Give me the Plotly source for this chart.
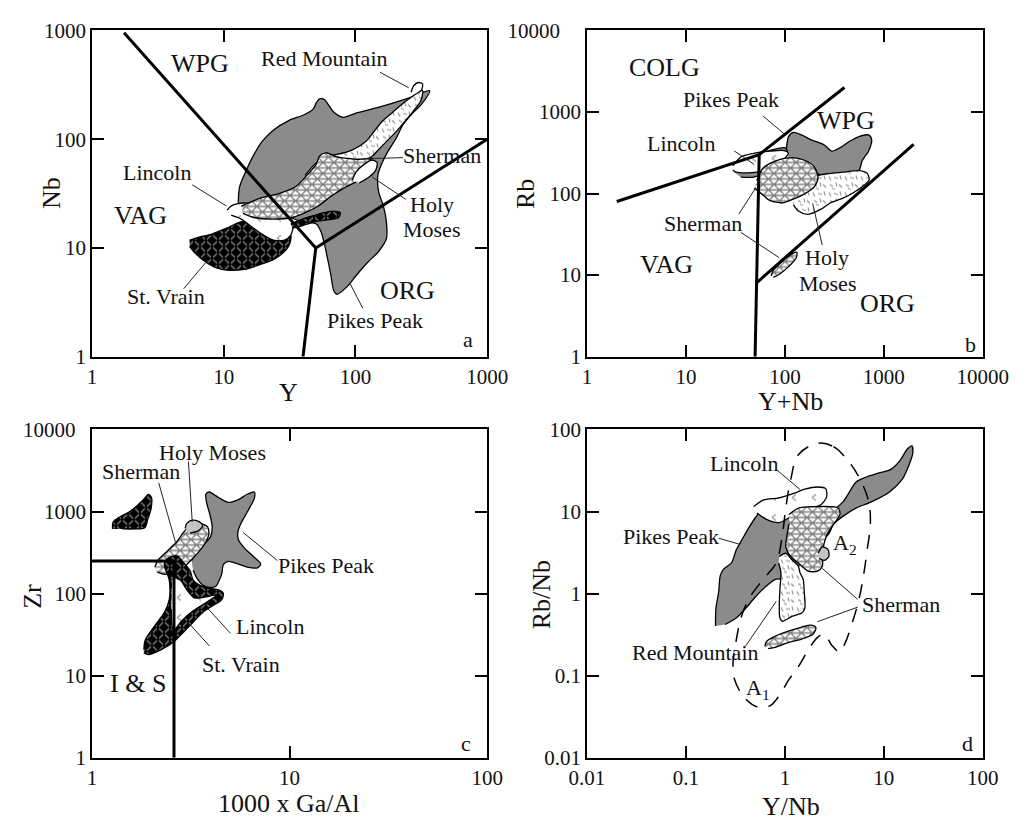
import math
import plotly.graph_objects as go

# ---------------- panel a : Nb vs Y ----------------
a_wpg_x = [1.75, 50]; a_wpg_y = [950, 10]
a_org_x = [50, 1000]; a_org_y = [10, 100]
a_vag_x = [50, 40]; a_vag_y = [10, 1]

a_pikes_x = [12.9,13.2,14.8,17.0,19.6,23.8,31.4,40.4,47.7,50.5,53.4,58.0,63.1,68.6,81.1,101,142,198,269,366,318,269,228,204,177,158,148,150,163,172,172,150,123,101,85.7,72.5,68.6,64.9,61.3,58.0,54.9,50.5,37.2,28.1,19.0,13.6]
a_pikes_y = [25.9,36.5,51.4,72.5,95.3,121,149,167,189,217,235,232,203,177,159,174,193,217,245,279,210,171,134,102,77.6,59.0,46.4,33.0,24.2,17.2,12.2,9.27,7.30,5.55,4.36,3.75,4.02,5.74,8.09,11.0,14.0,16.6,17.8,20.4,22.6,24.2]
a_redmtn_x = [41.5,49.1,59.7,72.5,95.9,120,138,158,192,234,284,323,313,277,241,209,177,150,130,101,76.7,58.0,47.7]
a_redmtn_y = [46.4,59.0,70.0,72.5,80.3,95.3,117,144,177,217,258,281,224,183,149,121,98.6,80.3,67.6,64.1,61.1,55.1,48.1]
a_redblob_x = [265,277,301,323,318,292]
a_redblob_y = [270,310,332,323,285,263]
a_sherman_x = [13.6,19.0,26.6,35.1,42.7,50.5,53.4,59.7,72.5,101,130,140,134,107,81.1,64.9,51.9,41.5,33.2,23.8,17.0,14.0]
a_sherman_y = [24.2,28.7,31.8,36.5,46.4,59.0,70.0,75.0,68.6,65.4,65.4,59.0,48.7,41.9,35.3,29.7,24.2,21.1,19.05,18.4,19.05,20.8]
a_holy_x = [94.8,101,117,134,146,142,127,107]
a_holy_y = [41.9,49.7,59.0,64.1,61.1,51.4,44.9,39.6]
a_lincoln_x = [10.6,11.5,14.4,19.0,25.1,30.5,33.6,32.3,28.9,23.8,20.1,16.5,13.6,11.4]
a_lincoln_y = [22.3,24.5,25.9,25.0,23.4,20.4,16.6,13.1,11.8,11.8,13.1,15.5,18.4,20.0]
a_stvrain_x = [5.51,6.23,8.24,10.9,13.6,17.0,22.5,28.1,32.3,31.4,28.1,23.8,19.0,14.4,10.9,8.71,7.16,6.06,5.51]
a_stvrain_y = [11.8,12.4,13.5,15.5,17.4,16.6,14.0,12.2,13.1,10.6,8.96,7.81,7.05,6.36,6.23,6.58,7.55,8.96,10.3]
a_stvrain2_x = [32.3,39.3,51.9,66.7,76.7,74.6,63.1,49.1,38.2,33.2]
a_stvrain2_y = [16.6,18.4,20.4,21.8,21.1,19.05,18.2,17.4,15.8,15.2]

# ---------------- panel b : Rb vs Y+Nb ----------------
b_colg_x = [2, 55, 400]; b_colg_y = [80, 300, 2000]
b_vert_x = [55, 51.5, 50]; b_vert_y = [300, 8, 1]
b_org_x = [51.5, 2000]; b_org_y = [8, 400]

b_pikes_x = [103,109,122,147,184,248,298,359,448,560,700,754,700,604,560,448,359,287,213,171,137,113]
b_pikes_y = [316,499,562,523,456,397,331,363,435,499,523,456,331,252,191,175,167,159,175,191,230,263]
b_pikes2_x = [30.9,34.6,48.3,70.0,101,106,94.2,75.4,60.4,48.3,35.9]
b_pikes2_y = [183,230,297,337,363,316,263,219,175,159,159]
b_lincoln_x = [29.8,35.9,48.3,70.0,97.8,108,100,81.2,65.0,52.0,41.6,32.1,29.8]
b_lincoln_y = [219,281,311,331,337,316,271,230,195,183,179,183,195]
b_sherman_x = [52.0,60.4,81.2,118,158,198,216,198,158,118,94.2,70.0,58.2,49.0]
b_sherman_y = [145,206,252,276,256,213,159,121,99.1,84.1,76.7,82.6,99.1,116]
b_sherman2_x = [72.6,76.5,94.2,116,132,130,109,88.8,76.5]
b_sherman2_y = [9.82,11.5,14.8,18.1,19.1,16.2,12.7,10.3,9.38]
b_holy_x = [118,137,184,267,387,560,675,711,604,483,387,287,230,171,137,122]
b_holy_y = [90.4,133,159,175,183,191,178,148,121,101,88.0,76.7,63.9,55.7,61.1,73.3]

# ---------------- panel c : Zr vs 1000 Ga/Al ----------------
c_line_x = [1, 2.6, 2.6]; c_line_y = [250, 250, 1]

c_pikes_x = [3.19,3.37,3.70,3.99,4.06,3.94,3.80,3.77,3.91,4.37,4.89,5.47,6.11,6.63,6.63,6.34,6.00,5.67,5.47,5.51,5.93,6.58,7.14,6.88,6.11,5.47,4.89,4.62,4.54,4.41,4.22,3.91,3.63,3.40,3.25]
c_pikes_y = [252,331,404,498,654,940,1293,1623,1730,1482,1293,1390,1623,1730,1443,1159,915,716,560,454,356,281,230,206,210,230,247,226,175,146,122,119,127,153,192]
c_sherman_x = [2.08,2.16,2.41,2.70,2.91,3.13,3.50,3.84,3.91,3.77,3.50,3.25,3.02,2.80,2.60,2.32,2.14]
c_sherman_y = [210,256,331,434,560,672,716,654,545,426,331,271,226,192,175,172,183]
c_holy_x = [2.96,3.02,3.23,3.50,3.63,3.44,3.13]
c_holy_y = [625,716,784,749,672,581,545]
c_stvrain_x = [1.83,1.86,2.08,2.32,2.46,2.46,2.32,2.46,2.70,2.85,3.13,3.25,3.50,3.91,4.37,4.62,4.54,4.06,3.63,3.25,2.91,2.60,2.24,1.93,1.83]
c_stvrain_y = [20.7,27.1,40.8,58.7,84.5,146,230,276,288,252,192,146,127,116,111,101,84.5,70.5,58.7,44.7,34.0,25.9,20.7,18.0,18.9]
c_lincoln_x = [2.55,2.80,3.02,3.31,3.91,4.29,3.77,3.25,2.85,2.58,2.52]
c_lincoln_y = [160,146,111,88.5,92.6,96.9,77.2,61.5,46.8,35.6,64.3]
c_stvrain2_x = [1.27,1.28,1.38,1.54,1.69,1.83,1.93,2.00,1.99,1.92,1.85,1.66,1.43]
c_stvrain2_y = [614,749,859,984,1180,1416,1623,1482,1079,820,636,614,614]

# ---------------- panel d : Rb/Nb vs Y/Nb ----------------
d_pikes_x = [0.199,0.201,0.214,0.222,0.239,0.288,0.322,0.373,0.434,0.503,0.605,0.729,0.878,1.057,1.37,1.99,2.88,3.88,5.23,6.53,8.80,11.8,14.8,17.2,19.2,19.6,17.8,15.4,11.4,7.58,5.23,3.88,3.10,2.78,2.39,1.99,1.71,1.37,1.10,0.815,0.628,0.503,0.402,0.322,0.248]
d_pikes_y = [0.402,0.662,1.04,1.64,1.97,2.36,3.39,4.66,6.40,8.40,11.0,13.2,14.7,14.5,11.0,11.0,10.07,13.2,22.8,26.1,29.4,32.7,43.0,57.5,63.0,51.5,35.9,24.9,17.3,13.2,11.0,8.79,7.00,5.33,4.45,3.88,3.10,2.15,1.50,1.50,1.19,0.909,0.662,0.504,0.420]
d_lincoln_x = [0.484,0.605,0.878,1.23,1.59,2.14,2.58,2.64,2.31,1.85,1.37,1.10,0.878,0.652,0.522]
d_lincoln_y = [11.5,13.8,14.7,16.6,18.7,19.9,19.0,15.1,12.1,11.0,10.07,8.40,7.33,8.02,9.62]
d_sherman_x = [1.10,1.37,1.99,2.88,3.47,3.60,3.10,2.68,2.49,2.39,2.39,2.14,1.71,1.37,1.14,1.02,1.057,1.10]
d_sherman_y = [9.20,11.0,11.5,11.5,11.0,9.20,7.00,5.33,4.06,3.10,2.15,1.88,1.88,2.36,2.83,3.71,5.33,7.00]
d_sherman2_x = [0.628,0.652,0.815,1.10,1.48,1.85,2.06,1.92,1.48,1.10,0.815,0.677]
d_sherman2_y = [0.227,0.262,0.306,0.351,0.391,0.413,0.384,0.320,0.279,0.255,0.223,0.213]
d_redmtn_x = [0.878,1.02,1.18,1.37,1.42,1.53,1.57,1.59,1.48,1.18,0.946,0.891,0.878,0.891,0.911,0.865]
d_redmtn_y = [2.83,3.10,2.58,2.15,1.80,1.50,1.04,0.662,0.578,0.527,0.460,0.504,0.725,1.14,1.80,2.36]
d_circle_x = [2.17,2.39,2.72,2.78,2.49,2.22]
d_circle_y = [3.10,3.71,3.45,2.83,2.54,2.70]
d_field_x = [2.14,3.10,4.51,5.85,7.04,7.31,6.78,6.30,5.63,4.85,4.03,3.60,2.99,2.49,2.14,1.71,1.37,1.10,0.878,0.703,0.522,0.387,0.310,0.299,0.322,0.360,0.434,0.605,0.815,0.946,1.02,1.14,1.37,2.14]
d_field_y = [67.7,61.8,39.3,23.8,13.2,7.00,3.39,1.80,0.869,0.460,0.244,0.194,0.233,0.320,0.292,0.203,0.129,0.0899,0.0571,0.0427,0.0416,0.0546,0.0899,0.1415,0.267,0.504,0.869,1.50,2.36,5.33,11.0,23.8,49.3,67.7]

# tick labels
NB = "\u00a0"
ticks_a = ["1", "10", "100", "1000"]
ticks_b = ["1", "10", "100", "1000", "10000"]
ticks_b_y = ["1", "10", "100", "1000", "10000" + NB * 4]
ticks_c_y = ["1", "10", "100", "1000", "10000" + NB * 2]
ticks_c_x = ["1", "10", "100"]
ticks_d = ["0.01", "0.1", "1", "10", "100"]

# ---------------- figure ----------------
W, H = 1033, 825
FONT = "Liberation Serif, Times New Roman, serif"
GREY = "#8b8b8b"
fig = go.Figure()

AX = {1: ("x", "y"), 2: ("x2", "y2"), 3: ("x3", "y3"), 4: ("x4", "y4")}

try:
    go.scatter.Fillpattern(path="M0,0L1,1Z")
    HAS_PATH = True
except Exception:
    HAS_PATH = False


def seg_path(segs, hw=0.55):
    out = []
    for x0, y0, x1, y1 in segs:
        dx, dy = x1 - x0, y1 - y0
        L = math.hypot(dx, dy)
        nx, ny = -dy / L * hw, dx / L * hw
        out.append("M%.2f,%.2fL%.2f,%.2fL%.2f,%.2fL%.2f,%.2fZ" % (
            x0 + nx, y0 + ny, x1 + nx, y1 + ny, x1 - nx, y1 - ny, x0 - nx, y0 - ny))
    return "".join(out)


# pattern tiles (styling only)
TRI = 11
tri_path = seg_path([(-1, 0, TRI + 1, 0), (-1, TRI, TRI + 1, TRI), (-1, TRI / 2, TRI + 1, TRI / 2),
                     (-1, -1, TRI + 1, TRI + 1), (TRI + 1, -1, -1, TRI + 1)], 0.68)
DSH = 16
dash_path = seg_path([(2, 2, 4, 6), (7, 3, 11, 4), (13, 1, 14, 5), (3, 10, 6, 12),
                      (9, 8, 10, 12), (12, 10, 15, 13), (5, 14, 8, 15)], 0.55)
BLK = 12
blk_path = seg_path([(1, 1, 5, 5), (7, 5, 11, 1), (1, 11, 5, 7), (7, 7, 11, 11)], 0.7)
LIN = 20
lin_path = seg_path([(9, 5, 5, 8), (5, 8, 9, 11)], 0.55)


def poly(xs, ys, p, kind):
    xa, ya = AX[p]
    base = dict(x=xs, y=ys, xaxis=xa, yaxis=ya, mode="lines", fill="toself",
                line=dict(color="black", width=1.3, shape="spline", smoothing=0.8),
                hoverinfo="skip", showlegend=False)
    if kind == "grey":
        fig.add_trace(go.Scatter(**base, fillcolor=GREY))
    elif kind == "white":
        fig.add_trace(go.Scatter(**base, fillcolor="white"))
    elif kind == "light":
        fig.add_trace(go.Scatter(**base, fillcolor="#c4c4c4"))
    elif kind == "lincoln":
        if HAS_PATH:
            fig.add_trace(go.Scatter(**base, fillcolor="white",
                                     fillpattern=dict(path=lin_path, size=LIN, fgcolor="#222",
                                                      bgcolor="white", solidity=0.02)))
        else:
            fig.add_trace(go.Scatter(**base, fillcolor="white"))
    elif kind == "dash":
        if HAS_PATH:
            fig.add_trace(go.Scatter(**base, fillcolor="white",
                                     fillpattern=dict(path=dash_path, size=DSH, fgcolor="#222",
                                                      bgcolor="white", solidity=0.02)))
        else:
            fig.add_trace(go.Scatter(**base, fillcolor="white",
                                     fillpattern=dict(shape=".", fgcolor="#222", bgcolor="white",
                                                      size=5, solidity=0.3)))
    elif kind == "black":
        if HAS_PATH:
            fig.add_trace(go.Scatter(**base, fillcolor="black",
                                     fillpattern=dict(path=blk_path, size=BLK, fgcolor="white",
                                                      bgcolor="black", solidity=0.02)))
        else:
            fig.add_trace(go.Scatter(**base, fillcolor="black",
                                     fillpattern=dict(shape="x", fgcolor="white", bgcolor="black",
                                                      size=10, solidity=0.12)))
    elif kind == "hatch":
        if HAS_PATH:
            fig.add_trace(go.Scatter(**base, fillcolor="white",
                                     fillpattern=dict(path=tri_path, size=TRI, fgcolor="black",
                                                      bgcolor="white", solidity=0.02)))
        else:
            fig.add_trace(go.Scatter(**base, fillcolor="white",
                                     fillpattern=dict(shape="x", fgcolor="black", bgcolor="white",
                                                      size=9, solidity=0.18)))
            fig.add_trace(go.Scatter(**base, fillcolor="rgba(0,0,0,0)",
                                     fillpattern=dict(shape="-", fgcolor="black",
                                                      bgcolor="rgba(0,0,0,0)",
                                                      size=9, solidity=0.18)))


def bline(xs, ys, p, width=3):
    xa, ya = AX[p]
    fig.add_trace(go.Scatter(x=xs, y=ys, xaxis=xa, yaxis=ya, mode="lines",
                             line=dict(color="black", width=width),
                             hoverinfo="skip", showlegend=False))


# panel a
poly(a_pikes_x, a_pikes_y, 1, "grey")
poly(a_redmtn_x, a_redmtn_y, 1, "dash")
poly(a_redblob_x, a_redblob_y, 1, "white")
poly(a_stvrain_x, a_stvrain_y, 1, "black")
poly(a_lincoln_x, a_lincoln_y, 1, "lincoln")
poly(a_sherman_x, a_sherman_y, 1, "hatch")
poly(a_holy_x, a_holy_y, 1, "white")
poly(a_stvrain2_x, a_stvrain2_y, 1, "black")
bline(a_wpg_x, a_wpg_y, 1)
bline(a_org_x, a_org_y, 1)
bline(a_vag_x, a_vag_y, 1)

# panel b
poly(b_pikes_x, b_pikes_y, 2, "grey")
poly(b_holy_x, b_holy_y, 2, "dash")
poly(b_pikes2_x, b_pikes2_y, 2, "grey")
poly(b_lincoln_x, b_lincoln_y, 2, "lincoln")
poly(b_sherman_x, b_sherman_y, 2, "hatch")
poly(b_sherman2_x, b_sherman2_y, 2, "hatch")
bline(b_colg_x, b_colg_y, 2)
bline(b_vert_x, b_vert_y, 2)
bline(b_org_x, b_org_y, 2)

# panel c
poly(c_pikes_x, c_pikes_y, 3, "grey")
poly(c_sherman_x, c_sherman_y, 3, "hatch")
poly(c_holy_x, c_holy_y, 3, "light")
poly(c_stvrain_x, c_stvrain_y, 3, "black")
poly(c_lincoln_x, c_lincoln_y, 3, "lincoln")
poly(c_stvrain2_x, c_stvrain2_y, 3, "black")
bline(c_line_x, c_line_y, 3)

# panel d
poly(d_pikes_x, d_pikes_y, 4, "grey")
poly(d_lincoln_x, d_lincoln_y, 4, "lincoln")
poly(d_sherman_x, d_sherman_y, 4, "hatch")
poly(d_redmtn_x, d_redmtn_y, 4, "dash")
poly(d_circle_x, d_circle_y, 4, "light")
poly(d_sherman2_x, d_sherman2_y, 4, "hatch")
fig.add_trace(go.Scatter(x=d_field_x, y=d_field_y, xaxis="x4", yaxis="y4", mode="lines",
                         line=dict(color="black", width=1.5, dash="14px,11px",
                                   shape="spline", smoothing=1.0),
                         hoverinfo="skip", showlegend=False))

# ---------------- axes ----------------
def px_x(p):
    return p / W


def px_y(p):
    return 1 - p / H


common = dict(type="log", showgrid=False, zeroline=False, showline=True, linecolor="black",
              linewidth=1.5, mirror="ticks", ticks="inside", ticklen=12, tickwidth=1.5,
              tickcolor="black", tickfont=dict(family=FONT, size=21, color="#111"))

XL, XR = [77.3, 490.0], [594.3, 1007.7]
YT, YB = [19, 355], [430, 768]

fig.update_layout(
    width=W, height=H, margin=dict(l=0, r=0, t=0, b=0),
    paper_bgcolor="white", plot_bgcolor="rgba(0,0,0,0)", showlegend=False,
    xaxis=dict(common, domain=[px_x(XL[0]), px_x(XL[1])], range=[0, 3], anchor="y",
               tickvals=[1, 10, 100, 1000], ticktext=ticks_a),
    yaxis=dict(common, domain=[px_y(YT[1]), px_y(YT[0])], range=[0, 3], anchor="x",
               tickvals=[1, 10, 100, 1000], ticktext=ticks_a),
    xaxis2=dict(common, domain=[px_x(XR[0]), px_x(XR[1])], range=[0, 4], anchor="y2",
                tickvals=[1, 10, 100, 1000, 10000], ticktext=ticks_b),
    yaxis2=dict(common, domain=[px_y(YT[1]), px_y(YT[0])], range=[0, 4], anchor="x2",
                tickvals=[1, 10, 100, 1000, 10000], ticktext=ticks_b_y),
    xaxis3=dict(common, domain=[px_x(XL[0]), px_x(XL[1])], range=[0, 2], anchor="y3",
                tickvals=[1, 10, 100], ticktext=ticks_c_x),
    yaxis3=dict(common, domain=[px_y(YB[1]), px_y(YB[0])], range=[0, 4], anchor="x3",
                tickvals=[1, 10, 100, 1000, 10000], ticktext=ticks_c_y),
    xaxis4=dict(common, domain=[px_x(XR[0]), px_x(XR[1])], range=[-2, 2], anchor="y4",
                tickvals=[0.01, 0.1, 1, 10, 100], ticktext=ticks_d),
    yaxis4=dict(common, domain=[px_y(YB[1]), px_y(YB[0])], range=[-2, 2], anchor="x4",
                tickvals=[0.01, 0.1, 1, 10, 100], ticktext=ticks_d),
)


def txt(s, x, y, size=22, angle=0):
    fig.add_annotation(x=px_x(x), y=px_y(y), xref="paper", yref="paper", text=s,
                       showarrow=False, textangle=angle, xanchor="center", yanchor="middle",
                       font=dict(family=FONT, size=size, color="#111"))


def lead(x0, y0, x1, y1):
    fig.add_shape(type="line", xref="paper", yref="paper", x0=px_x(x0), y0=px_y(y0),
                  x1=px_x(x1), y1=px_y(y1), line=dict(color="#222", width=1))


BIG = 26
# axis titles
txt("Nb", 35, 187, 26, -90); txt("Y", 283, 392, 26)
txt("Rb", 530, 187, 26, -90); txt("Y+Nb", 807, 401, 26)
txt("Zr", 15, 602, 26, -90); txt("1000 x Ga/Al", 283, 815, 26)
txt("Rb/Nb", 547, 600, 26, -90); txt("Y/Nb", 807, 818, 26)

# panel a labels
txt("WPG", 190, 53, BIG); txt("VAG", 128, 210, BIG); txt("ORG", 407, 287, BIG)
txt("Red Mountain", 320, 48); lead(378, 62, 408, 78)
txt("Sherman", 443, 148); lead(402, 150, 367, 151)
txt("Lincoln", 145, 165); lead(182, 178, 218, 200)
txt("Holy", 432, 198); txt("Moses", 432, 224); lead(405, 193, 370, 170)
txt("St. Vrain", 155, 293); lead(173, 285, 197, 257)
txt("Pikes Peak", 373, 318); lead(360, 305, 347, 280)
txt("a", 470, 337)

# panel b labels
txt("COLG", 675, 57, BIG); txt("WPG", 865, 112, BIG); txt("VAG", 677, 260, BIG); txt("ORG", 908, 300, BIG)
txt("Pikes Peak", 745, 90); lead(778, 107, 802, 127)
txt("Lincoln", 693, 135); lead(748, 143, 769, 157)
txt("Sherman", 715, 218); lead(753, 208, 770, 182); lead(755, 227, 795, 253)
txt("Holy", 845, 253); txt("Moses", 845, 280); lead(840, 240, 830, 197)
txt("b", 995, 342)

# panel c labels
txt("I & S", 125, 692, BIG)
txt("Holy Moses", 203, 454); lead(178, 463, 182, 525)
txt("Sherman", 128, 473); lead(147, 485, 165, 548)
txt("Pikes Peak", 322, 570); lead(271, 565, 235, 536)
txt("Lincoln", 263, 633); lead(222, 640, 197, 613)
txt("St. Vrain", 233, 672); lead(200, 653, 177, 628)
txt("c", 468, 753)

# panel d labels
txt("Lincoln", 758, 465); lead(793, 472, 817, 492)
txt("Pikes Peak", 682, 540); lead(732, 542, 753, 548)
txt("Sherman", 922, 610); lead(877, 605, 840, 573); lead(877, 613, 835, 628)
txt("Red Mountain", 708, 660); lead(760, 653, 792, 607)
txt("A<sub>1</sub>", 773, 697); txt("A<sub>2</sub>", 864, 548)
txt("d", 992, 753)

fig.write_html("out.html")
